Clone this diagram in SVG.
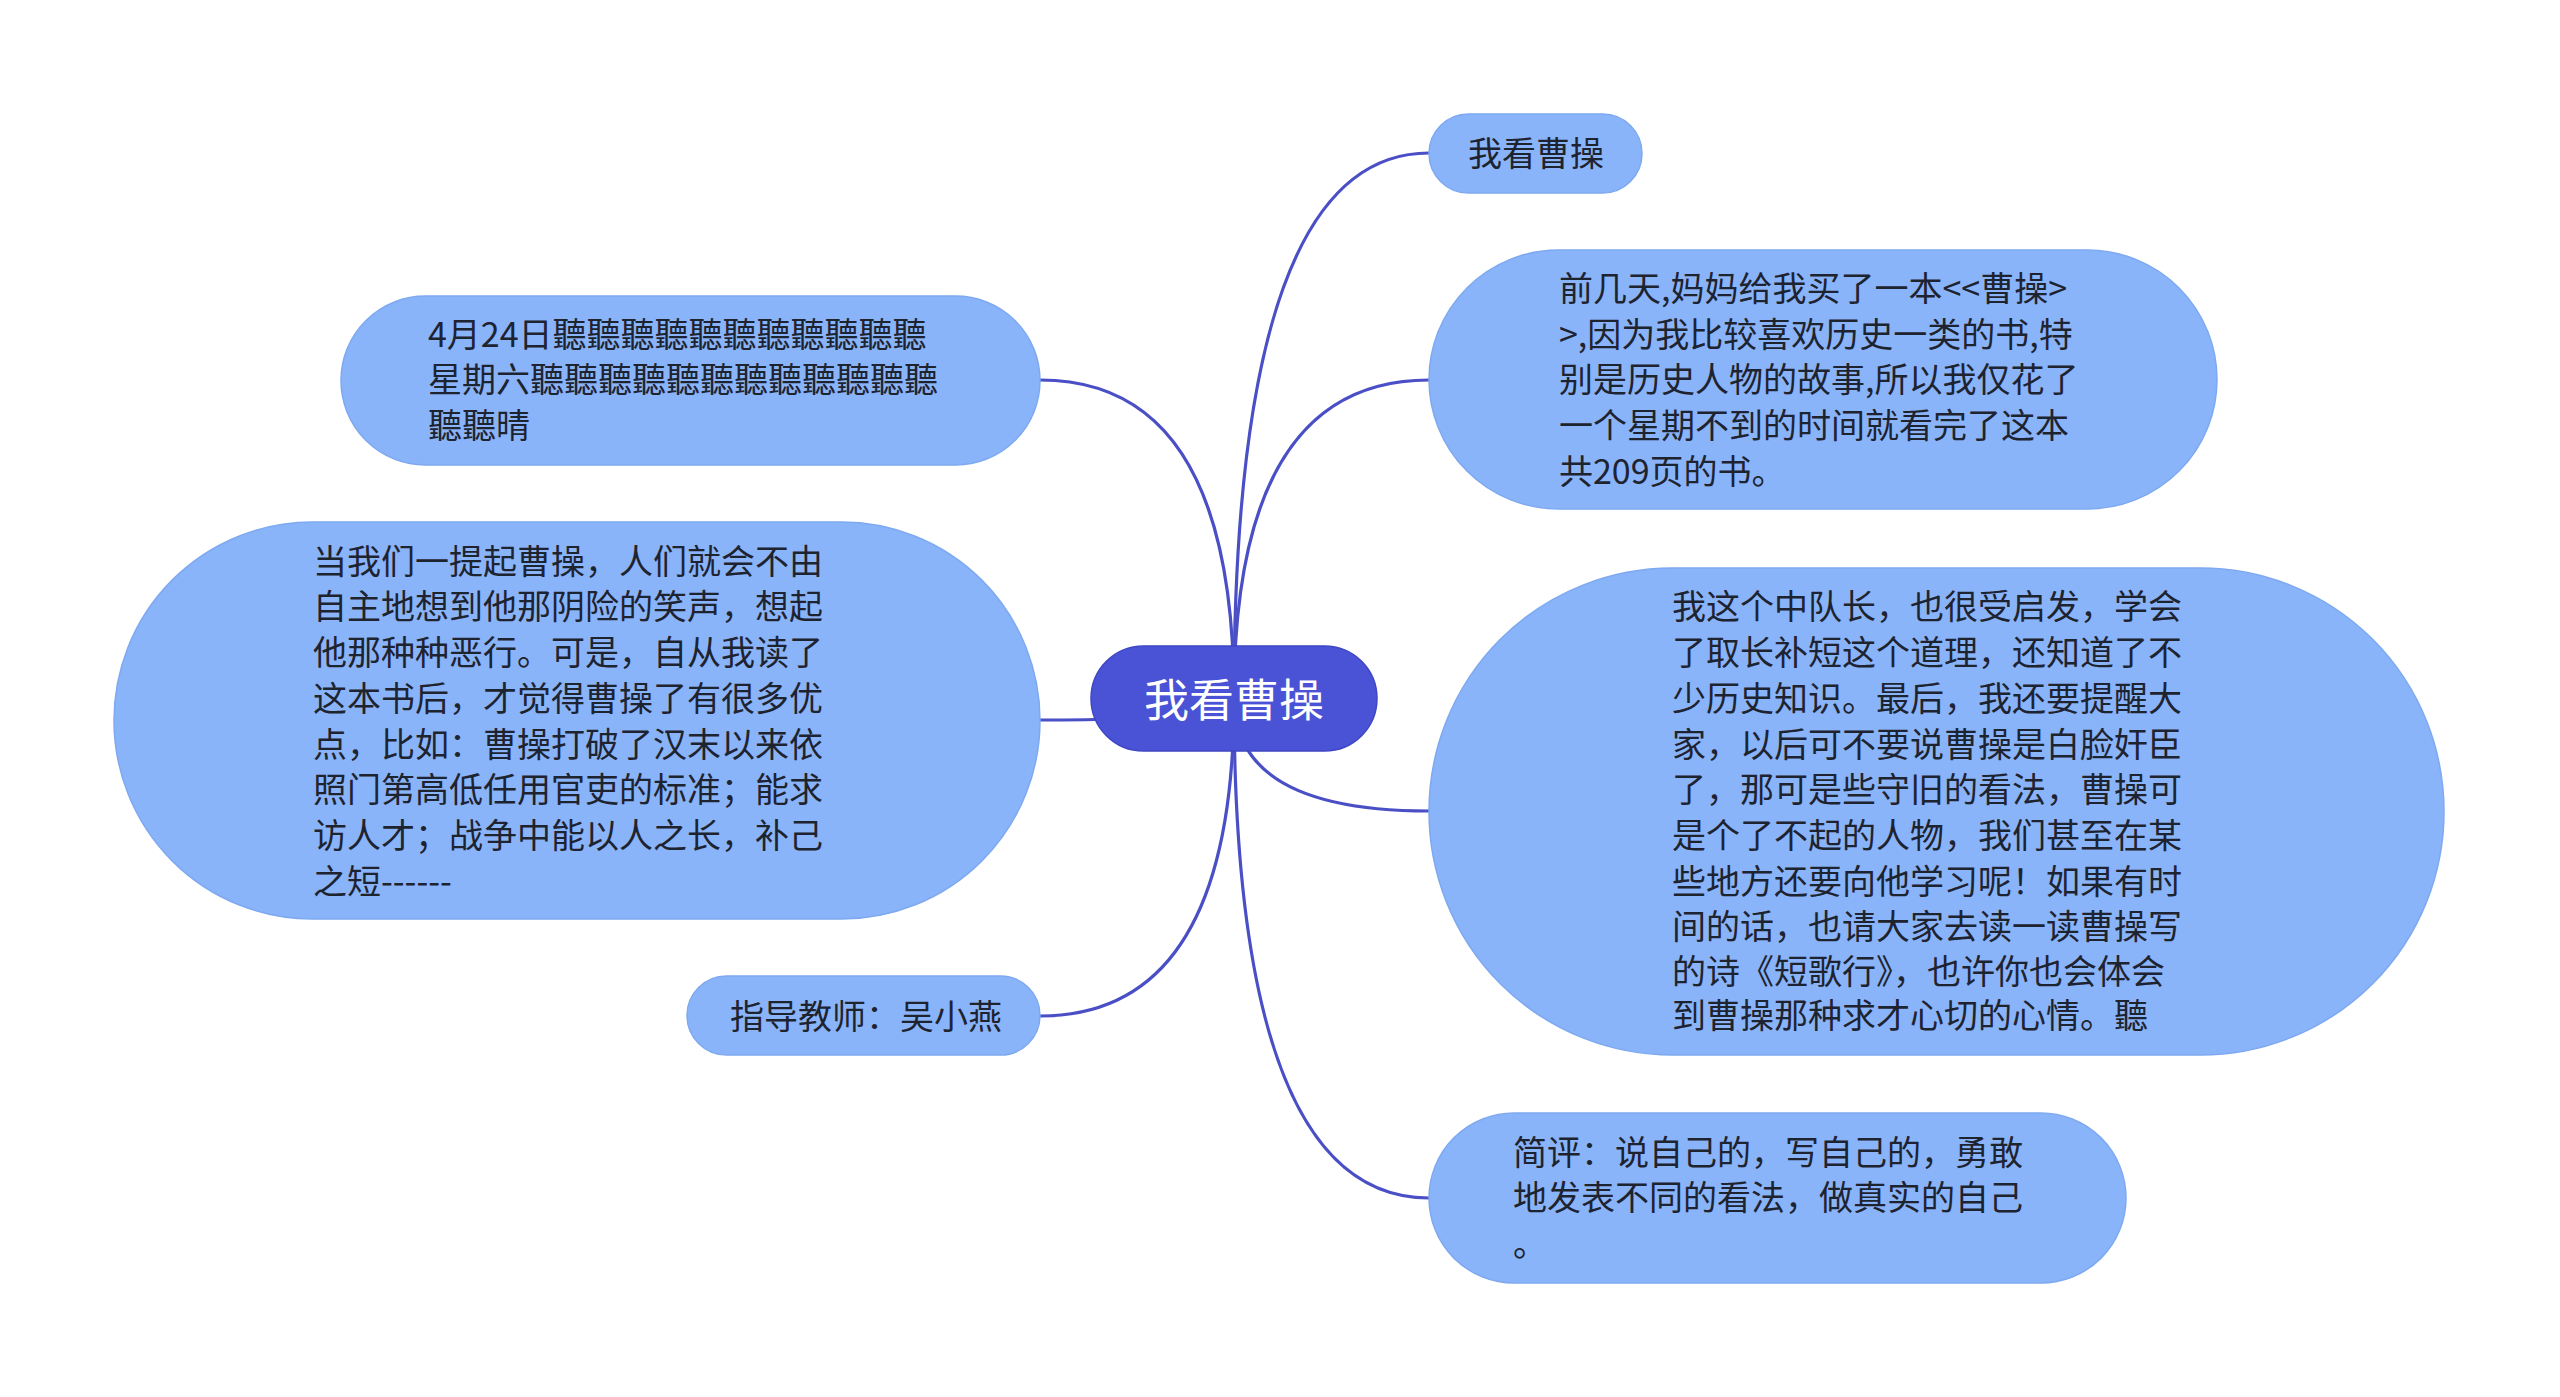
<svg xmlns="http://www.w3.org/2000/svg" width="2560" height="1397" viewBox="0 0 2560 1397">
<style>
.edge{fill:none;stroke:#4a4fc6;stroke-width:3.2;stroke-linecap:round}
.node{fill:#8ab4f9;stroke:#7ea9f0;stroke-width:1.5}
.root{fill:#4a52d6;stroke:#3f47c4;stroke-width:1.5}
.t{font-family:"Noto Sans CJK SC","Noto Sans",sans-serif;font-size:34px;fill:#1e2330;dominant-baseline:central}
.rt{font-family:"Noto Sans CJK SC","Noto Sans",sans-serif;font-size:45px;fill:#ffffff;dominant-baseline:central;text-anchor:middle}
</style>
<rect width="2560" height="1397" fill="#ffffff"/>
<g id="connectors">
<path class="edge" d="M1234 698 Q1234 153 1429 153"/>
<path class="edge" d="M1234 698 Q1234 380 1429 380"/>
<path class="edge" d="M1234 698 Q1234 811 1429 811"/>
<path class="edge" d="M1234 698 Q1234 1198 1429 1198"/>
<path class="edge" d="M1234 698 Q1234 380 1040 380"/>
<path class="edge" d="M1234 698 Q1234 720 1040 720"/>
<path class="edge" d="M1234 698 Q1234 1016 1040 1016"/>
</g>
<g id="root">
<rect class="root" x="1091" y="646" width="286" height="105" rx="52.5"/>
<text class="rt" x="1234" y="697">我看曹操</text>
</g>
<g id="n-top">
<rect class="node" x="1429" y="114" width="213" height="79" rx="39.5"/>
<text class="t" x="1468" y="151">我看曹操</text>
</g>
<g id="n-book">
<rect class="node" x="1429" y="250" width="788" height="259" rx="129.5"/>
<text class="t"><tspan x="1559" y="286">前几天,妈妈给我买了一本&lt;&lt;曹操&gt;</tspan><tspan x="1559" y="332">&gt;,因为我比较喜欢历史一类的书,特</tspan><tspan x="1559" y="377">别是历史人物的故事,所以我仅花了</tspan><tspan x="1559" y="423">一个星期不到的时间就看完了这本</tspan><tspan x="1559" y="469">共209页的书。</tspan></text>
</g>
<g id="n-leader">
<rect class="node" x="1429" y="568" width="1015" height="487" rx="243.5"/>
<text class="t"><tspan x="1672" y="604">我这个中队长，也很受启发，学会</tspan><tspan x="1672" y="650">了取长补短这个道理，还知道了不</tspan><tspan x="1672" y="696">少历史知识。最后，我还要提醒大</tspan><tspan x="1672" y="742">家，以后可不要说曹操是白脸奸臣</tspan><tspan x="1672" y="787">了，那可是些守旧的看法，曹操可</tspan><tspan x="1672" y="833">是个了不起的人物，我们甚至在某</tspan><tspan x="1672" y="879">些地方还要向他学习呢！如果有时</tspan><tspan x="1672" y="924">间的话，也请大家去读一读曹操写</tspan><tspan x="1672" y="969">的诗《短歌行》，也许你也会体会</tspan><tspan x="1672" y="1013">到曹操那种求才心切的心情。聽</tspan></text>
</g>
<g id="n-review">
<rect class="node" x="1429" y="1113" width="697" height="170" rx="85"/>
<text class="t"><tspan x="1513" y="1150">简评：说自己的，写自己的，勇敢</tspan><tspan x="1513" y="1195">地发表不同的看法，做真实的自己</tspan><tspan x="1513" y="1241">。</tspan></text>
</g>
<g id="n-date">
<rect class="node" x="341" y="296" width="699" height="169" rx="84.5"/>
<text class="t"><tspan x="428" y="332">4月24日聽聽聽聽聽聽聽聽聽聽聽</tspan><tspan x="428" y="377">星期六聽聽聽聽聽聽聽聽聽聽聽聽</tspan><tspan x="428" y="423">聽聽晴</tspan></text>
</g>
<g id="n-essay">
<rect class="node" x="114" y="522" width="926" height="397" rx="198.5"/>
<text class="t"><tspan x="313" y="559">当我们一提起曹操，人们就会不由</tspan><tspan x="313" y="604">自主地想到他那阴险的笑声，想起</tspan><tspan x="313" y="650">他那种种恶行。可是，自从我读了</tspan><tspan x="313" y="696">这本书后，才觉得曹操了有很多优</tspan><tspan x="313" y="742">点，比如：曹操打破了汉末以来依</tspan><tspan x="313" y="787">照门第高低任用官吏的标准；能求</tspan><tspan x="313" y="833">访人才；战争中能以人之长，补己</tspan><tspan x="313" y="879">之短------</tspan></text>
</g>
<g id="n-teacher">
<rect class="node" x="687" y="976" width="353" height="79" rx="39.5"/>
<text class="t" x="730" y="1014">指导教师：吴小燕</text>
</g>
</svg>
